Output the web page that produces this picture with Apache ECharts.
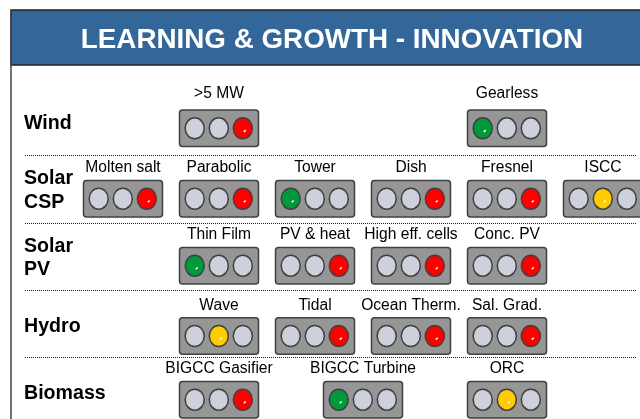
<!DOCTYPE html>
<html><head><meta charset="utf-8">
<style>html,body{margin:0;padding:0;background:#fff}#c{width:640px;height:419px}</style>
<script src="https://cdn.jsdelivr.net/npm/echarts@6/dist/echarts.min.js"></script>
</head><body><div id="c"></div>
<script>
const titleText = 'LEARNING & GROWTH - INNOVATION';
const rowNames = ['Wind', 'Solar\nCSP', 'Solar\nPV', 'Hydro', 'Biomass'];
const windItems = ['>5 MW', 'Gearless'];
const windStatus = ['red', 'green'];
const cspItems = ['Molten salt', 'Parabolic', 'Tower', 'Dish', 'Fresnel', 'ISCC'];
const cspStatus = ['red', 'red', 'green', 'red', 'red', 'yellow'];
const pvItems = ['Thin Film', 'PV & heat', 'High eff. cells', 'Conc. PV'];
const pvStatus = ['green', 'red', 'red', 'red'];
const hydroItems = ['Wave', 'Tidal', 'Ocean Therm.', 'Sal. Grad.'];
const hydroStatus = ['yellow', 'red', 'red', 'red'];
const biomassItems = ['BIGCC Gasifier', 'BIGCC Turbine', 'ORC'];
const biomassStatus = ['red', 'green', 'yellow'];

// layout (kept apart from the data)
const columnsByRow = [[219, 507], [123, 219, 315, 411, 507, 603], [219, 315, 411, 507], [219, 315, 411, 507], [219, 363, 507]];
const rowCentre = [128.3, 198.7, 265.7, 336, 399.7];
const labelY = [93.5, 167.5, 234.5, 305.5, 368.5];
const rowNameY = [123.5, 190.5, 258, 327, 393.5];
const separators = [155, 223, 290, 357.5];
const lampPos = { green: 0, yellow: 1, red: 2 };
const lampColor = { green: '#009A3D', yellow: '#FFCC00', red: '#FF0000' };
const rows = [[windItems, windStatus], [cspItems, cspStatus], [pvItems, pvStatus], [hydroItems, hydroStatus], [biomassItems, biomassStatus]];

const lightData = [];
rows.forEach((r, i) => r[0].forEach((name, j) => {
  lightData.push({ value: [columnsByRow[i][j], rowCentre[i], lampPos[r[1][j]], labelY[i]], name, status: r[1][j] });
}));

const FONT = '"Liberation Sans", Arial, sans-serif';
const chart = echarts.init(document.getElementById('c'), null, { renderer: 'canvas' });

function renderLight(params, api) {
  const c = api.coord([api.value(0), api.value(1)]);
  const lit = api.value(2);
  const ly = api.coord([0, api.value(3)])[1];
  const d = lightData[params.dataIndex];
  const children = [{
    type: 'rect',
    shape: { x: c[0] - 39.5, y: c[1] - 18.2, width: 79, height: 36.4, r: 3 },
    style: { fill: '#969696', stroke: '#404040', lineWidth: 1.5 }
  }];
  [-24.3, -0.2, 23.8].forEach((dx, k) => {
    children.push({
      type: 'ellipse',
      shape: { cx: c[0] + dx, cy: c[1], rx: 9.5, ry: 10.5 },
      style: { fill: k === lit ? lampColor[d.status] : '#CDD1DB', stroke: '#404040', lineWidth: 1.5 }
    });
    if (k === lit) children.push({
      type: 'line',
      shape: { x1: c[0] + dx + 1, y1: c[1] + 3.6, x2: c[0] + dx + 3, y2: c[1] + 1.8 },
      style: { stroke: '#FFFFFF', lineWidth: 1.5 }
    });
  });
  children.push({
    type: 'text',
    style: { x: c[0], y: ly, text: d.name, fill: '#000', font: '15.6px ' + FONT, textAlign: 'center', textVerticalAlign: 'middle' }
  });
  return { type: 'group', children };
}

chart.setOption({
  animation: false,
  backgroundColor: '#fff',
  grid: { left: 0, right: 0, top: 0, bottom: 0 },
  xAxis: { type: 'value', min: 0, max: 640, show: false },
  yAxis: { type: 'value', min: 0, max: 419, inverse: true, show: false },
  title: {
    text: titleText, left: 331.5, top: 20, textAlign: 'center',
    textStyle: { color: '#fff', fontFamily: FONT, fontWeight: 'bold', fontSize: 27.8, lineHeight: 30 }
  },
  graphic: {
    elements: [
      { type: 'rect', z: 0, shape: { x: 11, y: 10, width: 640, height: 55 }, style: { fill: '#336699', stroke: '#222', lineWidth: 1.5 } },
      { type: 'line', z: 0, shape: { x1: 11, y1: 10, x2: 11, y2: 419 }, style: { stroke: '#444', lineWidth: 1.5 } }
    ].concat(rowNames.map((t, i) => ({
      type: 'text', z: 5,
      style: { x: 24, y: rowNameY[i], text: t, fill: '#000', font: 'bold 19.6px ' + FONT, lineHeight: 23.5, textVerticalAlign: 'middle' }
    })))
  },
  series: [
    {
      type: 'line', data: [], silent: true,
      markLine: {
        silent: true, symbol: 'none', animation: false, label: { show: false },
        lineStyle: { color: '#222', type: [1, 1], width: 1 },
        data: separators.map(y => [{ coord: [25, y] }, { coord: [636, y] }])
      }
    },
    {
      type: 'custom', coordinateSystem: 'cartesian2d', clip: false,
      renderItem: renderLight,
      encode: { x: 0, y: 1 },
      data: lightData
    }
  ]
});
chart.setOption({ title: { left: 327 } });
</script></body></html>
